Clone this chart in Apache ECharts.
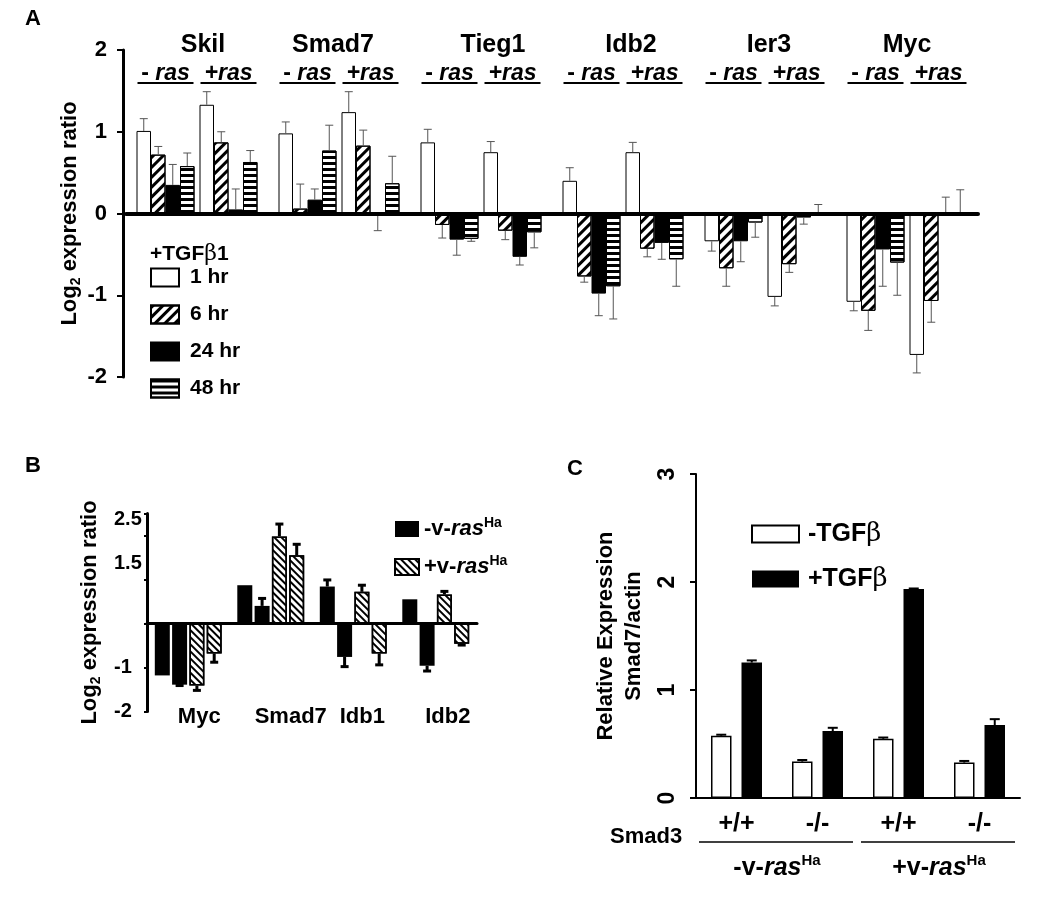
<!DOCTYPE html>
<html><head><meta charset="utf-8">
<script src="https://cdn.jsdelivr.net/npm/echarts@6/dist/echarts.min.js"></script>
<style>html,body{margin:0;padding:0;background:#fff}#c{width:1050px;height:899px}</style>
</head><body><div id="c"></div>
<script>
// ---------------- DATA ----------------
// Panel A
const genesA = ['Skil', 'Smad7', 'Tieg1', 'Idb2', 'Ier3', 'Myc'];
const timeLabels = ['1 hr', '6 hr', '24 hr', '48 hr'];
const rasLabelsA = ['- ras', '+ras'];
const yTicksA = ['2', '1', '0', '-1', '-2'];
// values [time][gene]
const minusRasVals = [
  [1.01, 0.98, 0.87, 0.40, -0.34, -1.08],
  [0.72, 0.06, -0.14, -0.77, -0.67, -1.19],
  [0.35, 0.17, -0.32, -0.98, -0.34, -0.44],
  [0.58, 0.77, -0.31, -0.89, -0.11, -0.60]
];
const minusRasErr = [
  [0.15, 0.14, 0.16, 0.16, -0.12, -0.11],
  [0.10, 0.30, -0.16, -0.07, -0.22, -0.24],
  [0.25, 0.13, -0.19, -0.27, -0.25, -0.45],
  [0.16, 0.31, -0.03, -0.40, -0.18, -0.40]
];
const plusRasVals = [
  [1.33, 1.24, 0.75, 0.75, -1.02, -1.73],
  [0.87, 0.83, -0.21, -0.43, -0.62, -1.07],
  [0.05, -0.01, -0.53, -0.36, -0.05, -0.01],
  [0.63, 0.37, -0.23, -0.56, 0.01, -0.01]
];
const plusRasErr = [
  [0.16, 0.25, 0.13, 0.12, -0.11, -0.22],
  [0.13, 0.19, -0.11, -0.10, -0.10, -0.26],
  [0.25, -0.20, -0.10, -0.20, -0.08, 0.21],
  [0.14, 0.33, -0.19, -0.33, 0.10, 0.30]
];
// Panel B
const genesB = ['Myc', 'Smad7', 'Idb1', 'Idb2'];
const legendB = ['-v-rasHa', '+v-rasHa'];
const tickLabelsB = ['2.5', '1.5', '-1', '-2'];
const bBlack1 = [-1.18, 0.87, 0.84, 0.55];
const bBlack2 = [-1.39, 0.40, -0.76, -0.96];
const bHatch1 = [-1.41, 1.98, 0.72, 0.66];
const bHatch2 = [-0.68, 1.55, -0.68, -0.46];
const bBlack1Err = [0, 0, 0.15, 0];
const bBlack2Err = [-0.02, 0.17, -0.22, -0.12];
const bHatch1Err = [-0.11, 0.28, 0.15, 0.07];
const bHatch2Err = [-0.20, 0.25, -0.26, -0.03];
// Panel C
const smad3C = ['+/+', '-/-', '+/+', '-/-'];
const rasGroupsC = ['-v-rasHa', '+v-rasHa'];
const legendC = ['-TGFβ', '+TGFβ'];
const minusTGF = [0.576, 0.337, 0.548, 0.328];
const plusTGF = [1.254, 0.62, 1.935, 0.675];
const minusTGFErr = [0.01, 0.015, 0.012, 0.015];
const plusTGFErr = [0.02, 0.03, 0.005, 0.055];

// ---------------- STYLE ----------------
const F = "'Liberation Sans', Arial, Helvetica, sans-serif";
const BW_A = 14.5, SP_A = 5;
const BW_B = 15, GAP_B = 2.3;
const BW_C = 20.5, GAP_C = 10;

function slotCenterA(s) {
  const W = 8 * BW_A + SP_A;
  const left = -W / 2 + (s < 4 ? s * BW_A : 4 * BW_A + SP_A + (s - 4) * BW_A);
  return left + BW_A / 2;
}
function slotCenterB(s) {
  const W = 4 * BW_B + 3 * GAP_B;
  return -W / 2 + s * (BW_B + GAP_B) + BW_B / 2;
}
function slotCenterC(s) {
  const W = 2 * BW_C + GAP_C;
  return -W / 2 + s * (BW_C + GAP_C) + BW_C / 2;
}
function errRender(centerFn, stroke, lw, capHalf) {
  return function (params, api) {
    const g = api.value(0), v = api.value(1), e = api.value(2), s = api.value(3);
    if (!e) return null;
    const cx = api.coord([g, 0])[0] + centerFn(s);
    const y0 = api.coord([g, v])[1], y1 = api.coord([g, v + e])[1];
    return { type: 'group', children: [
      { type: 'line', shape: { x1: cx, y1: y0, x2: cx, y2: y1 }, style: { stroke: stroke, lineWidth: lw } },
      { type: 'line', shape: { x1: cx - capHalf, y1: y1, x2: cx + capHalf, y2: y1 }, style: { stroke: stroke, lineWidth: lw } }
    ]};
  };
}

const styleA = [
  { color: '#fff' },
  { color: '#fff', decal: { symbol: 'rect', symbolSize: 1, dashArrayX: [1, 0], dashArrayY: [3, 4], rotation: -Math.PI / 4, color: '#000' } },
  { color: '#000' },
  { color: '#fff', decal: { symbol: 'rect', symbolSize: 1, dashArrayX: [1, 0], dashArrayY: [3, 3], rotation: 0, color: '#000' } }
];
const hatchB = { symbol: 'rect', symbolSize: 1, dashArrayX: [1, 0], dashArrayY: [2, 2.5], rotation: Math.PI / 4, color: '#000' };

const richRas = {
  a: { fontFamily: F, fontWeight: 'bold', fontSize: 22, color: '#000', lineHeight: 26 },
  i: { fontFamily: F, fontWeight: 'bold', fontStyle: 'italic', fontSize: 22, color: '#000', lineHeight: 26 },
  s: { fontFamily: F, fontWeight: 'bold', fontSize: 14, color: '#000', verticalAlign: 'top', lineHeight: 26 }
};
function rasRich(name) { return name.replace(/^([-+]v-)ras(Ha)$/, '{a|$1}{i|ras}{s|$2}'); }

// ---------------- SERIES ----------------
const series = [];
[minusRasVals, plusRasVals].forEach((vals, r) => {
  if (r === 1) series.push({ type: 'bar', name: '_gap', xAxisIndex: 0, yAxisIndex: 0, barWidth: SP_A, barGap: '0%', silent: true, data: genesA.map(() => null) });
  timeLabels.forEach((t, ti) => {
    series.push({ type: 'bar', name: t, xAxisIndex: 0, yAxisIndex: 0, barWidth: BW_A, barGap: '0%',
      itemStyle: Object.assign({ borderColor: '#000', borderWidth: 1 }, styleA[ti]), data: vals[ti] });
  });
});
const errDataA = [];
[[minusRasVals, minusRasErr], [plusRasVals, plusRasErr]].forEach(([vals, errs], r) => {
  timeLabels.forEach((t, ti) => genesA.forEach((g, gi) => errDataA.push([gi, vals[ti][gi], errs[ti][gi], r * 4 + ti])));
});
series.push({ type: 'custom', xAxisIndex: 0, yAxisIndex: 0, silent: true, z: 4, encode: { x: 0, y: 1 },
  data: errDataA, renderItem: errRender(slotCenterA, '#555', 1, 4) });
// -ras/+ras labels with underline
series.push({ type: 'custom', xAxisIndex: 0, yAxisIndex: 0, silent: true, z: 4, encode: { x: 0, y: 1 },
  data: genesA.flatMap((g, gi) => rasLabelsA.map((rl, ri) => [gi, 0, ri])),
  renderItem: function (params, api) {
    const gi = api.value(0), ri = api.value(2);
    const cx = api.coord([gi, 0])[0] + (2 * BW_A + SP_A / 2) * (ri === 0 ? -1 : 1);
    const top = params.coordSys.y;
    const lab = rasLabelsA[ri];
    const txt = lab.indexOf(' ') >= 0 ? '{n|' + lab.split(' ')[0] + ' }{i|' + lab.split(' ')[1] + '}' : '{i|' + lab + '}';
    return { type: 'group', children: [
      { type: 'text', style: { x: cx, y: top + 24, text: txt, align: 'center', verticalAlign: 'middle',
        rich: { n: { fontFamily: F, fontWeight: 'bold', fontSize: 23, fill: '#000' },
                i: { fontFamily: F, fontWeight: 'bold', fontStyle: 'italic', fontSize: 23, fill: '#000' } } } },
      { type: 'line', shape: { x1: cx - 28, y1: top + 33, x2: cx + 28, y2: top + 33 }, style: { stroke: '#000', lineWidth: 2 } }
    ]};
  } });

// Panel B
const bDefs = [
  { name: legendB[0], vals: bBlack1, err: bBlack1Err, st: { color: '#000' } },
  { name: legendB[0], vals: bBlack2, err: bBlack2Err, st: { color: '#000' } },
  { name: legendB[1], vals: bHatch1, err: bHatch1Err, st: { color: '#fff', borderColor: '#000', borderWidth: 1.5, decal: hatchB } },
  { name: legendB[1], vals: bHatch2, err: bHatch2Err, st: { color: '#fff', borderColor: '#000', borderWidth: 1.5, decal: hatchB } }
];
const errDataB = [];
bDefs.forEach((d, s) => {
  series.push({ type: 'bar', name: d.name, xAxisIndex: 2, yAxisIndex: 1, barWidth: BW_B, barGap: (GAP_B / BW_B * 100) + '%', itemStyle: d.st, data: d.vals });
  genesB.forEach((g, gi) => errDataB.push([gi, d.vals[gi], d.err[gi], s]));
});
series.push({ type: 'custom', xAxisIndex: 2, yAxisIndex: 1, silent: true, z: 4, encode: { x: 0, y: 1 },
  data: errDataB, renderItem: errRender(slotCenterB, '#000', 3, 4) });

// Panel C
const cDefs = [
  { name: legendC[0], vals: minusTGF, err: minusTGFErr, st: { color: '#fff', borderColor: '#000', borderWidth: 1.5 } },
  { name: legendC[1], vals: plusTGF, err: plusTGFErr, st: { color: '#000' } }
];
const errDataC = [];
cDefs.forEach((d, s) => {
  series.push({ type: 'bar', name: d.name, xAxisIndex: 4, yAxisIndex: 3, barWidth: BW_C, barGap: (GAP_C / BW_C * 100) + '%', itemStyle: d.st, data: d.vals });
  smad3C.forEach((g, gi) => errDataC.push([gi, d.vals[gi], d.err[gi], s]));
});
series.push({ type: 'custom', xAxisIndex: 4, yAxisIndex: 3, silent: true, z: 4, encode: { x: 0, y: 1 },
  data: errDataC, renderItem: errRender(slotCenterC, '#000', 2, 5) });
// C group underline + ras labels
series.push({ type: 'custom', xAxisIndex: 4, yAxisIndex: 3, silent: true, z: 4, encode: { x: 0, y: 1 },
  data: rasGroupsC.map((n, g) => [2 * g, 0, g]),
  renderItem: function (params, api) {
    const c0 = api.value(0), g = api.value(2);
    const cw = api.size([1, 0])[0];
    const x0 = api.coord([c0, 0])[0] - cw / 2, x1 = x0 + 2 * cw;
    const bottom = params.coordSys.y + params.coordSys.height;
    return { type: 'group', children: [
      { type: 'line', shape: { x1: x0 + 3, y1: bottom + 44, x2: x1 - 5, y2: bottom + 44 }, style: { stroke: '#000', lineWidth: 1.5 } },
      { type: 'text', style: { x: (x0 + x1) / 2, y: bottom + 70, text: rasRich(rasGroupsC[g]), align: 'center', verticalAlign: 'middle',
        rich: {
          a: { fontFamily: F, fontWeight: 'bold', fontSize: 25, fill: '#000', lineHeight: 30 },
          i: { fontFamily: F, fontWeight: 'bold', fontStyle: 'italic', fontSize: 25, fill: '#000', lineHeight: 30 },
          s: { fontFamily: F, fontWeight: 'bold', fontSize: 15, fill: '#000', verticalAlign: 'top', lineHeight: 30 } } } }
    ]};
  } });

// ---------------- OPTION ----------------
const shiftA = [6, -6, 12, 8, 4, 0];
const shiftB = [11, 20, 9, 12];
function padRich(shifts, base) {
  const r = {};
  shifts.forEach((s, i) => { r['l' + i] = Object.assign({ padding: [0, s < 0 ? -2 * s : 0, 0, s > 0 ? 2 * s : 0] }, base); });
  return r;
}
const boldBase = { fontFamily: F, fontWeight: 'bold', color: '#000' };
const letterStyle = { fontFamily: F, fontWeight: 'bold', fontSize: 22, color: '#000' };

const option = {
  animation: false,
  backgroundColor: '#fff',
  textStyle: { fontFamily: F },
  title: [
    { text: 'A', left: 25, top: 8, padding: 0, textStyle: letterStyle },
    { text: 'B', left: 25, top: 455, padding: 0, textStyle: letterStyle },
    { text: 'C', left: 567, top: 458, padding: 0, textStyle: letterStyle },
    { text: '+TGF{b|β}1', left: 150, top: 243, padding: 0, textStyle: { fontFamily: F, fontWeight: 'bold', fontSize: 21, color: '#000',
      rich: { b: { fontFamily: 'DejaVu Serif, serif', fontWeight: 'normal', fontSize: 22, color: '#000' } } } },
    { text: 'Smad3', left: 610, top: 826, padding: 0, textStyle: { fontFamily: F, fontWeight: 'bold', fontSize: 22, color: '#000' } }
  ],
  legend: [
    { data: timeLabels, orient: 'vertical', left: 150, top: 267, padding: 0, itemWidth: 28, itemHeight: 18, itemGap: 16, icon: 'rect',
      selectedMode: false, formatter: n => '{t|' + n + '}',
      textStyle: { fontFamily: F, fontWeight: 'bold', fontSize: 21, color: '#000', rich: { t: { padding: [0, 0, 0, 6], fontFamily: F, fontWeight: 'bold', fontSize: 21 } } } },
    { data: legendB, orient: 'vertical', left: 394, top: 516, padding: 0, itemWidth: 24, itemHeight: 16, itemGap: 14, icon: 'rect',
      selectedMode: false, formatter: n => rasRich(n), textStyle: { rich: richRas } },
    { data: legendC, orient: 'vertical', left: 751, top: 521, padding: 0, itemWidth: 47, itemHeight: 17, itemGap: 19, icon: 'rect',
      selectedMode: false, formatter: n => '{t|' + n.replace('β', '}{b|β}'),
      textStyle: { fontFamily: F, fontWeight: 'bold', fontSize: 25, color: '#000',
        rich: { t: { fontFamily: F, fontWeight: 'bold', fontSize: 25, color: '#000', padding: [0, 0, 0, 4] },
                b: { fontFamily: 'DejaVu Serif, serif', fontWeight: 'normal', fontSize: 26, color: '#000' } } } }
  ],
  grid: [
    { left: 126, top: 50, width: 852, height: 327 },
    { left: 147, top: 513.5, width: 330, height: 198 },
    { left: 696, top: 474, width: 324, height: 324 }
  ],
  xAxis: [
    { gridIndex: 0, type: 'category', data: genesA, z: 5, axisLine: { onZero: true, lineStyle: { color: '#000', width: 4 } },
      axisTick: { show: false }, axisLabel: { show: false } },
    { gridIndex: 0, type: 'category', data: genesA, position: 'top', axisLine: { show: false, onZero: false }, axisTick: { show: false },
      axisLabel: { interval: 0, margin: -8, fontSize: 25, fontFamily: F, fontWeight: 'bold', color: '#000',
        formatter: (v, i) => '{l' + i + '|' + v + '}', rich: padRich(shiftA, Object.assign({ fontSize: 25 }, boldBase)) } },
    { gridIndex: 1, type: 'category', data: genesB, z: 5, axisLine: { onZero: true, lineStyle: { color: '#000', width: 3 } },
      axisTick: { show: false }, axisLabel: { show: false } },
    { gridIndex: 1, type: 'category', data: genesB, position: 'bottom', axisLine: { show: false, onZero: false }, axisTick: { show: false },
      axisLabel: { interval: 0, margin: -6, fontSize: 22, fontFamily: F, fontWeight: 'bold', color: '#000',
        formatter: (v, i) => '{l' + i + '|' + v + '}', rich: padRich(shiftB, Object.assign({ fontSize: 22 }, boldBase)) } },
    { gridIndex: 2, type: 'category', data: smad3C, axisLine: { lineStyle: { color: '#000', width: 2 } },
      axisTick: { show: false }, axisLabel: { interval: 0, margin: 14, fontSize: 25, fontFamily: F, fontWeight: 'bold', color: '#000' } }
  ],
  yAxis: [
    { gridIndex: 0, type: 'value', min: -2, max: 2, interval: 1, offset: 3, splitLine: { show: false },
      axisLine: { show: true, lineStyle: { color: '#000', width: 3 } },
      axisTick: { show: true, inside: false, length: 6, lineStyle: { color: '#000', width: 2 } },
      axisLabel: { margin: 16, fontSize: 22, fontFamily: F, fontWeight: 'bold', color: '#000', formatter: v => yTicksA[2 - v] },
      name: 'Log{s|2} expression ratio', nameLocation: 'middle', nameGap: 40, nameMoveOverlap: false,
      nameTextStyle: { fontSize: 22, fontFamily: F, fontWeight: 'bold', color: '#000',
        rich: { s: { fontSize: 14, fontFamily: F, fontWeight: 'bold', verticalAlign: 'bottom', lineHeight: 27 } } } },
    { gridIndex: 1, type: 'value', position: 'left', min: -2, max: 2.5, interval: 0.5, splitLine: { show: false },
      axisLine: { show: true, lineStyle: { color: '#000', width: 3 } }, axisTick: { show: false },
      axisLabel: { margin: 33, align: 'left', fontSize: 20, fontFamily: F, fontWeight: 'bold', color: '#000',
        formatter: v => tickLabelsB.indexOf(String(v)) < 0 ? '' : (v > 0 ? '{p|' + v + '}' : '{n|' + v + '}'),
        rich: { p: Object.assign({ fontSize: 20, padding: [12, 0, 0, 0] }, boldBase), n: Object.assign({ fontSize: 20 }, boldBase) } },
      name: 'Log{s|2} expression ratio', nameLocation: 'middle', nameGap: 44, nameMoveOverlap: false,
      nameTextStyle: { fontSize: 22, fontFamily: F, fontWeight: 'bold', color: '#000',
        rich: { s: { fontSize: 14, fontFamily: F, fontWeight: 'bold', verticalAlign: 'bottom', lineHeight: 27 } } } },
    { gridIndex: 1, type: 'value', position: 'left', min: -2, max: 2.5, interval: 1, splitLine: { show: false },
      axisLine: { show: false }, axisLabel: { show: false },
      axisTick: { show: true, inside: false, length: 3, lineStyle: { color: '#000', width: 2 } } },
    { gridIndex: 2, type: 'value', min: 0, max: 3, interval: 1, splitLine: { show: false },
      axisLine: { show: true, lineStyle: { color: '#000', width: 2 } },
      axisTick: { show: true, inside: false, length: 6, lineStyle: { color: '#000', width: 2 } },
      axisLabel: { rotate: 90, margin: 17, fontSize: 23, fontFamily: F, fontWeight: 'bold', color: '#000' },
      name: 'Relative Expression\nSmad7/actin', nameLocation: 'middle', nameGap: 48, nameMoveOverlap: false,
      nameTextStyle: { fontSize: 22, fontFamily: F, fontWeight: 'bold', color: '#000', lineHeight: 28 } }
  ],
  series: series
};
const chart = echarts.init(document.getElementById('c'), null, { renderer: 'canvas' });
chart.setOption(option);
</script>
</body></html>
